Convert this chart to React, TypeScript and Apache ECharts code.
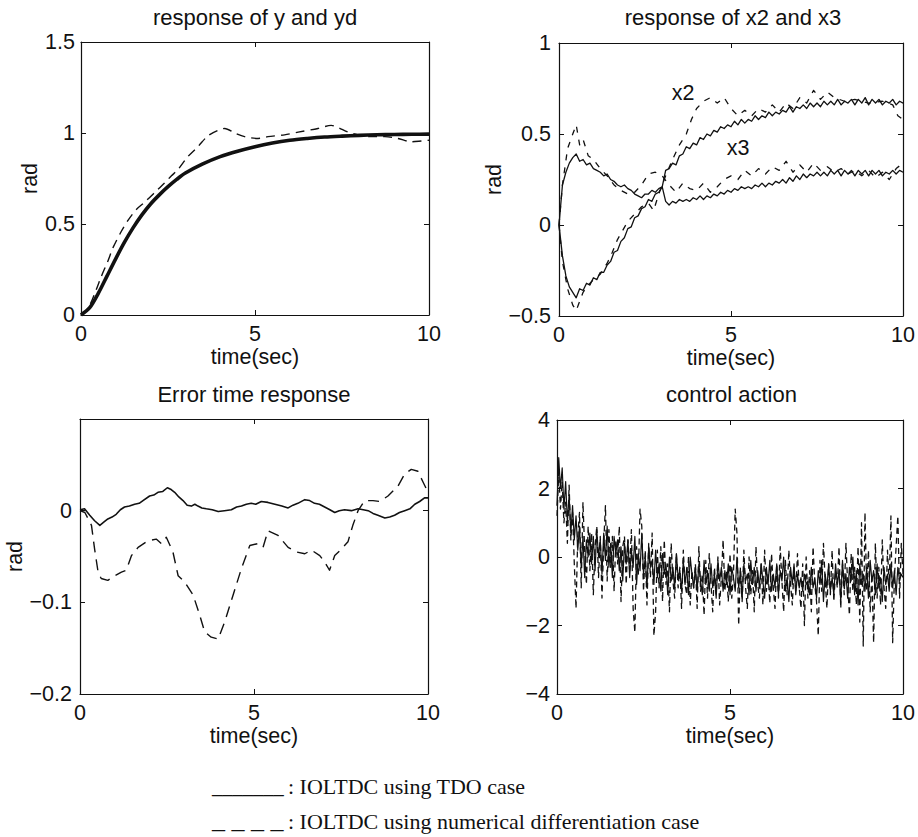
import React, { useEffect, useRef } from 'react';
import * as echarts from 'echarts';

// ---------- data ----------
// Panel 1: response of y and yd
const yTimes = [0, 0.25, 0.5, 0.75, 1, 1.25, 1.5, 1.75, 2, 2.25, 2.5, 2.75, 3, 3.5, 4, 4.5, 5, 5.5, 6, 6.5, 7, 7.5, 8, 8.5, 9, 9.5, 10];
const ySolid = [0, 0.04, 0.12, 0.215, 0.31, 0.4, 0.48, 0.55, 0.61, 0.66, 0.705, 0.745, 0.78, 0.83, 0.87, 0.9, 0.925, 0.945, 0.96, 0.97, 0.978, 0.983, 0.987, 0.99, 0.992, 0.993, 0.994];
const ydTimes = [0, 0.2, 0.44, 0.58, 0.78, 0.92, 1.16, 1.35, 1.59, 1.83, 2.21, 2.4, 2.6, 2.79, 3.07, 3.36, 3.65, 3.94, 4.13, 4.42, 4.7, 5.09, 5.37, 5.85, 6.24, 6.81, 7.19, 7.39, 7.67, 7.96, 8.34, 8.73, 9.11, 9.49, 9.78, 10];
const ydDashed = [0, 0.035, 0.14, 0.21, 0.3, 0.37, 0.46, 0.52, 0.58, 0.62, 0.69, 0.725, 0.765, 0.8, 0.87, 0.925, 0.985, 1.015, 1.025, 1.0, 0.98, 0.97, 0.98, 0.99, 1.005, 1.025, 1.042, 1.03, 1.005, 0.99, 0.98, 0.98, 0.97, 0.952, 0.956, 0.96];

// Panel 2: response of x2 and x3 (solid sampled every 0.1 s)
const X_DT = 0.1;
const x2Solid = [
  0, -0.17, -0.28, -0.34, -0.37, -0.4, -0.35, -0.36, -0.32, -0.33,
  -0.29, -0.3, -0.26, -0.26, -0.22, -0.2, -0.15, -0.14, -0.09, -0.07,
  -0.02, -0.01, 0.04, 0.05, 0.09, 0.1, 0.14, 0.13, 0.17, 0.18,
  0.21, 0.3, 0.31, 0.34, 0.33, 0.38, 0.39, 0.43, 0.42, 0.45,
  0.44, 0.48, 0.47, 0.5, 0.49, 0.52, 0.51, 0.54, 0.53, 0.55,
  0.54, 0.57, 0.55, 0.58, 0.56, 0.58, 0.57, 0.6, 0.58, 0.6,
  0.59, 0.62, 0.6, 0.62, 0.61, 0.63, 0.62, 0.65, 0.62, 0.65,
  0.64, 0.66, 0.64, 0.67, 0.65, 0.67, 0.65, 0.68, 0.66, 0.68,
  0.66, 0.69, 0.66, 0.68, 0.67, 0.69, 0.66, 0.69, 0.67, 0.7,
  0.66, 0.69, 0.67, 0.69, 0.66, 0.68, 0.67, 0.69, 0.66, 0.68,
  0.67,
];
const x3Solid = [
  0, 0.22, 0.29, 0.34, 0.37, 0.39, 0.35, 0.36, 0.33, 0.34,
  0.31, 0.3, 0.29, 0.27, 0.28, 0.25, 0.24, 0.22, 0.21, 0.22,
  0.2, 0.19, 0.17, 0.16, 0.15, 0.17, 0.17, 0.19, 0.18, 0.2,
  0.21, 0.13, 0.11, 0.13, 0.12, 0.14, 0.13, 0.14, 0.13, 0.15,
  0.14, 0.16, 0.14, 0.16, 0.15, 0.17, 0.16, 0.18, 0.17, 0.19,
  0.18, 0.2, 0.19, 0.21, 0.2, 0.21, 0.2, 0.22, 0.21, 0.23,
  0.21, 0.23, 0.22, 0.24, 0.23, 0.25, 0.23, 0.26, 0.24, 0.27,
  0.25, 0.28, 0.26, 0.28, 0.27, 0.29, 0.27, 0.29, 0.27, 0.3,
  0.28, 0.3, 0.27, 0.3, 0.28, 0.3, 0.27, 0.3, 0.28, 0.3,
  0.27, 0.3, 0.28, 0.3, 0.27, 0.29, 0.28, 0.3, 0.28, 0.3,
  0.29,
];
const x2Dashed: [number, number][] = [
  [0, 0], [0.1, -0.2], [0.25, -0.35], [0.4, -0.44], [0.5, -0.47], [0.6, -0.42], [0.7, -0.37], [0.85, -0.33], [1.0, -0.3], [1.2, -0.27],
  [1.4, -0.21], [1.55, -0.15], [1.7, -0.08], [1.85, -0.03], [2.0, 0.02], [2.2, 0.06], [2.4, 0.1], [2.6, 0.12], [2.75, 0.08], [2.9, 0.17],
  [3.1, 0.27], [3.3, 0.36], [3.5, 0.44], [3.7, 0.5], [3.85, 0.58], [4.0, 0.64], [4.2, 0.68], [4.4, 0.7], [4.6, 0.67], [4.8, 0.7],
  [5.0, 0.64], [5.2, 0.6], [5.4, 0.63], [5.6, 0.6], [5.8, 0.64], [6.0, 0.62], [6.2, 0.66], [6.4, 0.62], [6.6, 0.67], [6.8, 0.64],
  [7.0, 0.7], [7.2, 0.67], [7.4, 0.74], [7.6, 0.69], [7.8, 0.73], [8.0, 0.7], [8.3, 0.68], [8.6, 0.69], [9.0, 0.67], [9.4, 0.68],
  [9.7, 0.66], [9.85, 0.6], [10, 0.58],
];
const x3Dashed: [number, number][] = [
  [0, 0], [0.1, 0.22], [0.25, 0.42], [0.4, 0.5], [0.5, 0.55], [0.6, 0.44], [0.7, 0.47], [0.85, 0.38], [1.0, 0.36], [1.2, 0.31],
  [1.4, 0.27], [1.6, 0.22], [1.8, 0.19], [2.0, 0.17], [2.2, 0.18], [2.4, 0.22], [2.6, 0.28], [2.8, 0.29], [3.0, 0.27], [3.2, 0.22],
  [3.4, 0.18], [3.6, 0.23], [3.8, 0.2], [4.0, 0.19], [4.2, 0.23], [4.4, 0.18], [4.6, 0.21], [4.8, 0.25], [5.0, 0.27], [5.2, 0.25],
  [5.4, 0.3], [5.6, 0.27], [5.8, 0.31], [6.0, 0.28], [6.2, 0.32], [6.4, 0.3], [6.6, 0.35], [6.8, 0.29], [7.0, 0.33], [7.2, 0.29],
  [7.4, 0.34], [7.6, 0.3], [7.8, 0.32], [8.0, 0.29], [8.2, 0.31], [8.4, 0.28], [8.6, 0.3], [8.8, 0.27], [9.0, 0.3], [9.2, 0.26],
  [9.4, 0.29], [9.6, 0.25], [9.8, 0.31], [10, 0.34],
];

// Panel 3: Error time response
const errSolid: [number, number][] = [
  [0, 0.001], [0.13, 0.002], [0.28, -0.005], [0.42, -0.011], [0.57, -0.016], [0.7, -0.012], [0.8, -0.009], [0.92, -0.007], [1.04, -0.004], [1.16, 0.001], [1.28, 0.004], [1.42, 0.005], [1.57, 0.007], [1.7, 0.008], [1.81, 0.011],
  [2.0, 0.016], [2.12, 0.017], [2.24, 0.02], [2.38, 0.021], [2.51, 0.025], [2.62, 0.023], [2.72, 0.02], [2.84, 0.015], [2.96, 0.011], [3.08, 0.006], [3.2, 0.005], [3.3, 0.007], [3.39, 0.005], [3.5, 0.003], [3.63, 0.002], [3.8, 0.001], [3.97, -0.001], [4.15, 0.0], [4.35, 0.001],
  [4.5, 0.004], [4.64, 0.005], [4.78, 0.007], [4.92, 0.008], [5.05, 0.007], [5.21, 0.01], [5.4, 0.009], [5.6, 0.007], [5.8, 0.005], [5.98, 0.003], [6.12, 0.006], [6.26, 0.008], [6.46, 0.012], [6.6, 0.011], [6.74, 0.008], [6.88, 0.007], [7.03, 0.004], [7.18, 0.001], [7.32, -0.002],
  [7.45, 0.0], [7.6, 0.001], [7.8, 0.0], [7.99, 0.002], [8.14, 0.001], [8.28, 0], [8.42, -0.003], [8.56, -0.005], [8.76, -0.008], [8.9, -0.007], [9.04, -0.005], [9.18, -0.002], [9.33, 0], [9.48, 0.002], [9.62, 0.007], [9.76, 0.01], [9.9, 0.014], [10, 0.014],
];
const errDashed: [number, number][] = [
  [0, 0], [0.14, -0.002], [0.33, -0.016], [0.42, -0.042], [0.52, -0.067], [0.61, -0.074], [0.8, -0.076], [1.0, -0.071], [1.19, -0.067], [1.33, -0.065],
  [1.48, -0.049], [1.67, -0.04], [1.95, -0.033], [2.19, -0.031], [2.34, -0.036], [2.48, -0.029], [2.67, -0.045], [2.82, -0.071], [3.01, -0.078], [3.25, -0.092],
  [3.44, -0.114], [3.58, -0.132], [3.77, -0.138], [3.97, -0.14], [4.16, -0.121], [4.4, -0.092], [4.64, -0.063], [4.88, -0.038], [5.11, -0.036], [5.26, -0.04],
  [5.4, -0.022], [5.69, -0.027], [5.98, -0.04], [6.22, -0.045], [6.46, -0.047], [6.65, -0.043], [6.89, -0.049], [7.03, -0.056], [7.17, -0.065], [7.32, -0.049],
  [7.51, -0.042], [7.7, -0.034], [7.84, -0.016], [7.99, 0], [8.18, 0.011], [8.42, 0.011], [8.61, 0.01], [8.85, 0.016], [9.14, 0.027], [9.33, 0.04],
  [9.52, 0.045], [9.71, 0.043], [9.86, 0.031], [10, 0.02],
];

// Panel 4: control action (sampled every 0.05 s)
const U_DT = 0.05;
const uSolid = [
  1.5, 2.9, 2.0, 2.6, 1.4, 2.2, 1.0, 1.8, 0.7, 1.5, 0.5, 1.2, 0.2, 0.9, -0.3, 0.6, -0.6, 0.5, 0.0, 0.7,
  -0.2, 0.6, -0.4, 0.8, 0.0, 0.5, -0.5, 0.7, -0.1, 0.9, -0.3, 0.4, -0.6, 0.6, 0.1, 0.5, -0.4, 0.3, -0.7, 0.4,
  -0.2, 0.5, -0.6, 0.2, -0.3, 0.6, -0.8, 0.1, -0.4, 0.7, -0.5, 0.0, -0.9, 0.3, -0.3, -0.1, -0.8, 0.2, -0.6, -0.2,
  -1.0, 0.1, -0.5, -0.2, -1.1, 0.0, -0.7, -0.3, -0.9, 0.1, -0.6, -0.4, -1.0, -0.1, -0.8, -0.3, -1.1, 0.0, -0.5, -0.9,
  -0.3, -1.0, -0.2, -0.7, -1.1, -0.1, -0.8, -0.4, -1.0, -0.2, -0.9, -0.5, -1.2, -0.1, -0.7, -0.3, -1.0, -0.4, -0.8, -0.2,
  -1.1, -0.3, -0.6, -1.0, 0.0, -0.9, -0.4, -1.2, -0.2, -0.7, -0.5, -1.1, -0.1, -0.8, -0.3, -1.0, -0.4, -0.9, -0.2, -0.7,
  -1.2, -0.3, -0.8, -0.1, -1.0, -0.5, -0.9, -0.2, -1.1, -0.4, -0.7, 0.0, -1.0, -0.6, -1.3, -0.3, -0.8, -0.2, -1.1, -0.5,
  -0.9, -0.6, -1.0, -0.5, -0.8, -0.7, -1.1, -0.3, -0.9, -0.6, -1.2, -0.4, -0.8, -0.1, -1.3, -0.5, -0.9, -0.2, -1.0, -0.6,
  -1.1, -0.2, -0.8, -0.4, -1.3, -0.1, -0.9, -0.5, -1.2, -0.3, -0.7, 0.0, -1.1, -0.4, -1.4, -0.2, -0.8, -0.5, -1.0, -0.3,
  -1.2, -0.1, -0.7, -0.4, -1.1, -0.2, -0.9, -0.6, -1.3, -0.3, -0.8, -0.5, -1.0, -0.2, -0.9, -0.4, -1.1, -0.3, -0.7, -0.5,
  -0.6,
];
const uDashed = [
  1.2, 2.5, 1.4, 2.2, 1.0, 1.6, 0.4, 2.1, 0.5, 1.3, -0.2, -1.5, 0.6, 1.3, -0.9, 1.6, 0.2, -0.8, 0.9, -0.4,
  0.7, -1.1, 0.3, 0.9, -0.6, 0.6, -1.2, 0.4, 1.5, -0.7, 0.8, -0.3, 0.6, -1.0, 0.5, -0.2, 0.9, -1.3, 0.3, 0.6,
  -0.8, 0.5, -0.4, 0.8, -1.5, -2.2, 0.3, -0.5, 1.4, 0.9, -1.0, 0.2, -1.4, 0.4, -0.6, 0.7, -2.3, -1.6, 0.2, -0.9,
  0.3, -1.3, 0.5, -0.8, -0.2, -1.6, 0.4, -0.7, -1.2, 0.1, -0.9, -0.3, -1.5, 0.2, -0.8, -1.1, 0.0, -1.4, -0.4, -0.9,
  -0.2, -1.5, 0.3, -1.0, -0.5, -1.7, -0.1, -1.2, 0.1, -0.8, -1.6, -0.3, -1.1, 0.0, -1.4, -0.6, 0.5, -1.0, -0.4, -1.3,
  0.1, -1.2, -0.5, 1.4, 0.7, -2.0, -0.3, -1.3, 0.2, -0.9, -1.5, 0.0, -1.1, -0.4, -1.6, 0.3, -0.8, -1.2, -0.2, -1.4,
  0.2, -1.0, -0.5, -1.35, 0.1, -0.9, -1.5, -0.2, -1.2, 0.3, -0.7, -1.6, -0.1, -1.1, 0.2, -0.8, -1.4, -0.3, -1.0, 0.1,
  -0.9, -1.5, -0.2, -2.0, 0.0, -1.2, -0.4, -1.6, 0.3, -0.8, -1.3, -2.3, -0.1, -1.0, 0.4, -0.7, -1.5, -0.2, -1.1, 0.2,
  -1.3, -0.4, -0.9, 0.3, -1.5, -0.2, -1.1, 0.4, -0.8, -1.7, 0.1, -1.0, -0.3, -1.4, 0.3, -1.9, 1.0, -2.6, 1.3, -1.0,
  0.2, -1.6, -0.5, -2.5, 0.4, -1.2, -0.3, -1.4, 0.5, -0.9, -1.5, 0.2, -0.8, 1.2, -2.5, -0.6, 0.3, 1.2, -1.2, 0.4,
  -0.5,
];

// Tick settings
const xTicks = { min: 0, max: 10, interval: 5 };
const yTicks = [
  { min: 0, max: 1.5, interval: 0.5, hide: [] as number[] },
  { min: -0.5, max: 1, interval: 0.5, hide: [] as number[] },
  { min: -0.2, max: 0.1, interval: 0.1, hide: [0.1] },
  { min: -4, max: 4, interval: 2, hide: [] as number[] },
];
const titles = ['response of y and yd', 'response of x2 and x3', 'Error time response', 'control action'];
const yNames = ['rad', 'rad', 'rad', ''];
const xName = 'time(sec)';
const legendLines = [
  { sample: '_______', label: ': IOLTDC using TDO case' },
  { sample: '_ _ _ _', label: ': IOLTDC using numerical differentiation case' },
];

// ---------- layout ----------
const INK = '#111';
const SANS = '"Liberation Sans", Arial, Helvetica, sans-serif';
const SERIF = '"Liberation Serif", "Times New Roman", serif';
const FS = 21.5;

const grids = [
  { left: 81, top: 42, width: 348, height: 273 },
  { left: 559, top: 43, width: 348, height: 273 },
  { left: 80, top: 419, width: 348, height: 275 },
  { left: 557, top: 420, width: 349, height: 274 },
];
const yNameGaps = [37, 53, 52, 0];
const yLabelMargins = [6, 8, 8, 7];
const xNameGaps = [31, 31, 30, 30];
const titleY = [17, 17, 394, 394];
const sampleSizes = [20.5, 26];

const uniform = (vals: number[], dt: number) => vals.map((v, i) => [Math.round(i * dt * 1000) / 1000, v]);
const zip = (ts: number[], vs: number[]) => ts.map((t, i) => [t, vs[i]]);

const fmt = (hide: number[]) => (v: number) => {
  if (hide.some((h) => Math.abs(h - v) < 1e-9)) return '';
  const r = Math.round(v * 1000) / 1000;
  return String(r).replace('-', '\u2212');
};

function buildOption() {
  const xAxis: any[] = [];
  const yAxis: any[] = [];
  const tick = { show: true, inside: true, length: 5, lineStyle: { color: INK, width: 1 } };
  const line = { show: true, onZero: false, lineStyle: { color: INK, width: 1.2 } };
  grids.forEach((g, i) => {
    xAxis.push({
      type: 'value', gridIndex: i, position: 'bottom', ...xTicks,
      axisLine: line, axisTick: tick, splitLine: { show: false },
      axisLabel: { color: INK, fontSize: FS, fontFamily: SANS, margin: 8, showMinLabel: true, showMaxLabel: true },
      name: xName, nameLocation: 'middle', nameGap: xNameGaps[i],
      nameTextStyle: { color: INK, fontSize: FS, fontFamily: SANS },
    });
    xAxis.push({
      type: 'value', gridIndex: i, position: 'top', ...xTicks,
      axisLine: line, axisTick: tick, splitLine: { show: false }, axisLabel: { show: false },
    });
    const yt = yTicks[i];
    yAxis.push({
      type: 'value', gridIndex: i, position: 'left', min: yt.min, max: yt.max, interval: yt.interval,
      axisLine: line, axisTick: tick, splitLine: { show: false },
      axisLabel: { color: INK, fontSize: FS, fontFamily: SANS, margin: yLabelMargins[i], formatter: fmt(yt.hide), showMinLabel: true, showMaxLabel: true },
      name: yNames[i], nameLocation: 'middle', nameGap: yNameGaps[i], nameRotate: 90,
      nameTextStyle: { color: INK, fontSize: FS, fontFamily: SANS },
    });
    yAxis.push({
      type: 'value', gridIndex: i, position: 'right', min: yt.min, max: yt.max, interval: yt.interval,
      axisLine: line, axisTick: tick, splitLine: { show: false }, axisLabel: { show: false },
    });
  });

  const ser = (p: number, data: any[], dashed: boolean, width: number, dash: number[] = [8, 6], smooth: any = false) => ({
    type: 'line', xAxisIndex: 2 * p, yAxisIndex: 2 * p, data, showSymbol: false, symbol: 'none', smooth,
    silent: true, clip: true,
    lineStyle: { color: INK, width, type: dashed ? dash : 'solid', cap: 'butt', join: 'round' },
  });

  const series = [
    ser(0, zip(ydTimes, ydDashed), true, 1.4, [9, 6], 0.3),
    ser(0, zip(yTimes, ySolid), false, 3.6, undefined, 0.3),
    ser(1, x2Dashed, true, 1.3, [6, 7]),
    ser(1, x3Dashed, true, 1.3, [6, 7]),
    ser(1, uniform(x2Solid, X_DT), false, 1.3),
    ser(1, uniform(x3Solid, X_DT), false, 1.3),
    ser(2, errDashed, true, 1.4, [11, 7]),
    ser(2, errSolid, false, 1.6),
    ser(3, uniform(uDashed, U_DT), true, 1.3, [6, 4]),
    ser(3, uniform(uSolid, U_DT), false, 1.2),
  ];

  const txt = (text: string, x: number, y: number, font: string, size: number, align = 'center') => ({
    type: 'text', x, y, silent: true,
    style: {
      text, fill: INK, fontSize: size, fontFamily: font,
      align, verticalAlign: 'middle', textAlign: align, textVerticalAlign: 'middle',
    },
  });

  const graphic: any[] = [];
  titles.forEach((t, i) => {
    const g = grids[i];
    graphic.push(txt(t, g.left + g.width / 2, titleY[i], SANS, 22));
  });
  graphic.push(txt('x2', 683, 93, SANS, FS));
  graphic.push(txt('x3', 738, 148, SANS, FS));
  legendLines.forEach((l, i) => {
    const y = 786 + i * 35;
    graphic.push(txt(l.sample, 212, y - (i === 1 ? 1.5 : 0), SERIF, sampleSizes[i], 'left'));
    graphic.push(txt(l.label, 288, y, SERIF, 22, 'left'));
  });

  return {
    animation: false,
    backgroundColor: '#fff',
    grid: grids.map((g) => ({ ...g, containLabel: false, show: false })),
    xAxis, yAxis, series, graphic,
  };
}

export default function App() {
  const ref = useRef<HTMLDivElement>(null);
  useEffect(() => {
    if (!ref.current) return;
    const chart = echarts.init(ref.current, undefined, { renderer: 'svg' });
    chart.setOption(buildOption() as any);
    return () => chart.dispose();
  }, []);
  return (
    <div
      ref={ref}
      style={{ position: 'fixed', left: 0, top: 0, width: 918, height: 837, background: '#fff' }}
    />
  );
}
